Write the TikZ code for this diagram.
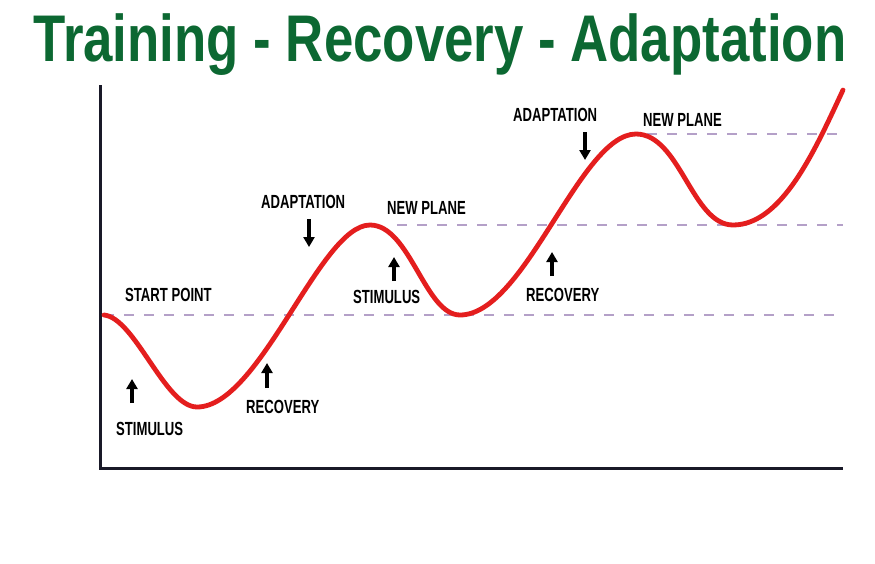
\documentclass[tikz,border=0pt]{standalone}
\usepackage{fontspec}
\setmainfont{Liberation Sans}
\usetikzlibrary{arrows.meta}
\definecolor{titlegreen}{RGB}{12,104,50}
\definecolor{curvered}{RGB}{228,30,30}
\definecolor{dashgray}{RGB}{180,160,200}
\definecolor{axisdark}{RGB}{25,25,40}
\newcommand{\lab}[1]{\scalebox{0.69}[1]{\fontsize{19}{19}\selectfont\bfseries #1}}
\begin{document}
\begin{tikzpicture}[x=1pt,y=-1pt,
  labelnode/.style={inner sep=0pt,anchor=base west},
  arr/.style={line width=3.2pt,-{Triangle[width=11pt,length=10pt]}},
  dashline/.style={dashgray,line width=2.6pt,dash pattern=on 10pt off 10pt},
  axisline/.style={axisdark,line width=3pt}]
\useasboundingbox (0,0) rectangle (875,563);
\fill[white] (0,0) rectangle (875,563);
% title
\node[inner sep=0pt,anchor=base,text=titlegreen] (title) at (440,61)
  {\scalebox{0.80}[1]{\fontsize{66}{66}\selectfont\bfseries Training - Recovery - Adaptation}};
% axes
\coordinate (ytop) at (100,85);
\coordinate (origin) at (100,468);
\coordinate (xend) at (843,468);
\draw[axisline] (ytop) -- (origin) -- (xend);
% dashed planes
\coordinate (d1a) at (104,315); \coordinate (d1b) at (843,315);
\coordinate (d2a) at (397,225); \coordinate (d2b) at (843,225);
\coordinate (d3a) at (647,134); \coordinate (d3b) at (843,134);
\draw[dashline] (d1a) -- (d1b);
\draw[dashline] (d2a) -- (d2b);
\draw[dashline] (d3a) -- (d3b);
% curve
\coordinate (c0) at (104,315);
\coordinate (c1) at (197,407);
\coordinate (c2) at (370,225);
\coordinate (c3) at (460,315);
\coordinate (c4) at (636,134);
\coordinate (c5) at (733,225);
\coordinate (c6) at (843,90);
\draw[curvered,line width=4.8pt,line cap=round]
  (c0) .. controls (135,318) and (165,407) .. (c1)
       .. controls (260,407) and (320,225) .. (c2)
       .. controls (410,225) and (425,315) .. (c3)
       .. controls (525,315) and (580,134) .. (c4)
       .. controls (680,134) and (692,225) .. (c5)
       .. controls (782,225) and (815,150) .. (c6);
% labels
\node[labelnode] (start) at (125,301) {\lab{START POINT}};
\node[labelnode] (stim1) at (116,435) {\lab{STIMULUS}};
\node[labelnode] (rec1) at (246,413) {\lab{RECOVERY}};
\node[labelnode] (adapt1) at (261,208) {\lab{ADAPTATION}};
\node[labelnode] (plane1) at (387,214) {\lab{NEW PLANE}};
\node[labelnode] (stim2) at (353,303) {\lab{STIMULUS}};
\node[labelnode] (adapt2) at (513,121) {\lab{ADAPTATION}};
\node[labelnode] (plane2) at (643,126) {\lab{NEW PLANE}};
\node[labelnode] (rec2) at (526,301) {\lab{RECOVERY}};
% arrows
\coordinate (a1s) at (132,403); \coordinate (a1e) at (132,379);
\coordinate (a2s) at (267,388); \coordinate (a2e) at (267,363);
\coordinate (a3s) at (309,219); \coordinate (a3e) at (309,247);
\coordinate (a4s) at (394,281); \coordinate (a4e) at (394,257);
\coordinate (a5s) at (585,132); \coordinate (a5e) at (585,160);
\coordinate (a6s) at (552,276); \coordinate (a6e) at (552,252);
\draw[arr] (a1s) -- (a1e);
\draw[arr] (a2s) -- (a2e);
\draw[arr] (a3s) -- (a3e);
\draw[arr] (a4s) -- (a4e);
\draw[arr] (a5s) -- (a5e);
\draw[arr] (a6s) -- (a6e);
\end{tikzpicture}
\end{document}
